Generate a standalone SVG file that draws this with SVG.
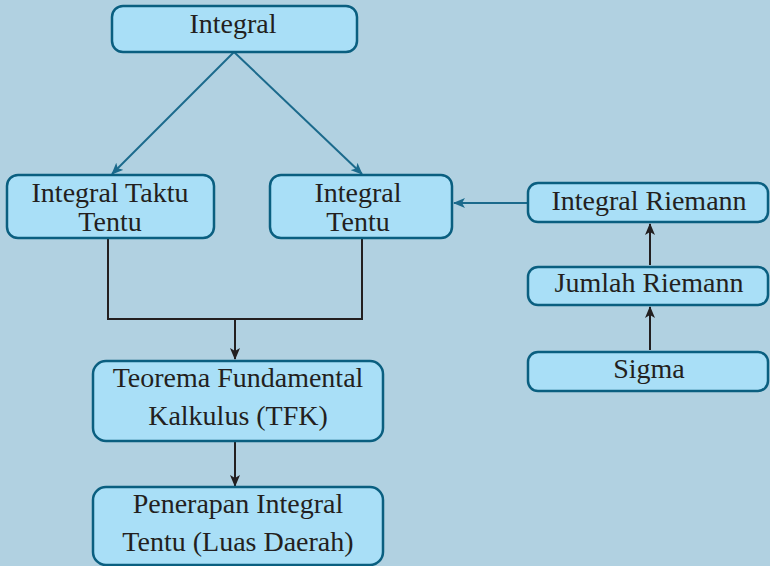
<svg xmlns="http://www.w3.org/2000/svg" width="770" height="566" viewBox="0 0 770 566">
<style>
.box{fill:#a9dff7;stroke:#0a5f80;stroke-width:2.5}
.t{font-family:'Liberation Serif','DejaVu Serif',serif;font-size:28px;fill:#231f20;text-anchor:middle}
.c1{fill:none;stroke:#1b6a8c;stroke-width:2}
.c2{fill:none;stroke:#231f20;stroke-width:2}
</style>
<defs>
<marker id="ab" markerWidth="12" markerHeight="10" refX="11" refY="5" orient="auto" markerUnits="userSpaceOnUse"><path d="M0,0 L12,5 L0,10 L3,5 Z" fill="#1b6a8c"/></marker>
<marker id="ak" markerWidth="12" markerHeight="10" refX="11" refY="5" orient="auto" markerUnits="userSpaceOnUse"><path d="M0,0 L12,5 L0,10 L3,5 Z" fill="#231f20"/></marker>
</defs>
<rect width="770" height="566" fill="#b1d1e1"/>
<g id="connectors">
<path class="c1" d="M234,52 L112,174" marker-end="url(#ab)"/>
<path class="c1" d="M234,52 L362,174" marker-end="url(#ab)"/>
<path class="c1" d="M527,203 L454,203" marker-end="url(#ab)"/>
<path class="c2" d="M650,265 L650,224" marker-end="url(#ak)"/>
<path class="c2" d="M650,350 L650,307" marker-end="url(#ak)"/>
<path class="c2" d="M108,238 L108,319 L362,319 L362,238"/>
<path class="c2" d="M235,319 L235,359" marker-end="url(#ak)"/>
<path class="c2" d="M235,441 L235,486" marker-end="url(#ak)"/>
</g>
<g id="integral"><rect class="box" x="112" y="6" width="245" height="46" rx="11"/><text class="t" x="233" y="33" font-family="Liberation Serif">Integral</text></g>
<g id="taktu"><rect class="box" x="7" y="175" width="207" height="63" rx="11"/><text class="t" x="110" y="202">Integral Taktu</text><text class="t" x="110" y="231">Tentu</text></g>
<g id="tentu"><rect class="box" x="270" y="175" width="182" height="63" rx="11"/><text class="t" x="358" y="202">Integral</text><text class="t" x="358" y="231">Tentu</text></g>
<g id="riemann"><rect class="box" x="528" y="183" width="240" height="39" rx="10"/><text class="t" x="649" y="210">Integral Riemann</text></g>
<g id="jumlah"><rect class="box" x="528" y="267" width="240" height="38" rx="10"/><text class="t" x="649" y="292">Jumlah Riemann</text></g>
<g id="sigma"><rect class="box" x="528" y="352" width="240" height="39" rx="10"/><text class="t" x="649" y="378">Sigma</text></g>
<g id="tfk"><rect class="box" x="93" y="361" width="290" height="80" rx="13"/><text class="t" x="238" y="387">Teorema Fundamental</text><text class="t" x="238" y="425">Kalkulus (TFK)</text></g>
<g id="penerapan"><rect class="box" x="93" y="487" width="290" height="78" rx="13"/><text class="t" x="238" y="513">Penerapan Integral</text><text class="t" x="238" y="551">Tentu (Luas Daerah)</text></g>
</svg>
